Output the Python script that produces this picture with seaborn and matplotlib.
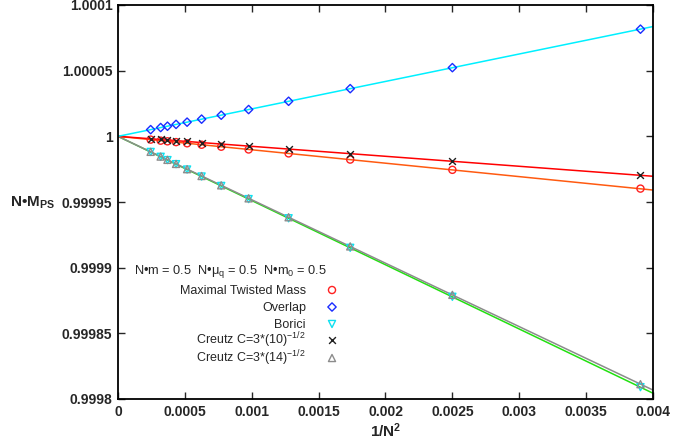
import numpy as np
import pandas as pd
import matplotlib
matplotlib.use("Agg")
import matplotlib.pyplot as plt
import seaborn as sns

# lattice sizes, plotted as 1/N^2
n_sizes = [16, 20, 24, 28, 32, 36, 40, 44, 48, 52, 56, 64]

# N*M_PS, one value per lattice size
mtm = [0.9999602, 0.9999745, 0.9999823, 0.9999870, 0.9999900, 0.9999921,
       0.9999936, 0.9999947, 0.9999956, 0.9999962, 0.9999967, 0.9999975]
overlap = [1.0000816, 1.0000523, 1.0000363, 1.0000267, 1.0000204, 1.0000161,
           1.0000131, 1.0000108, 1.0000091, 1.0000077, 1.0000067, 1.0000051]
borici = [0.9998090, 0.9998778, 0.9999151, 0.9999376, 0.9999522, 0.9999622,
          0.9999694, 0.9999747, 0.9999788, 0.9999819, 0.9999844, 0.9999881]
creutz10 = [0.9999703, 0.9999810, 0.9999868, 0.9999903, 0.9999926, 0.9999941,
            0.9999953, 0.9999961, 0.9999967, 0.9999972, 0.9999976, 0.9999981]
creutz14 = [0.9998113, 0.9998793, 0.9999162, 0.9999384, 0.9999528, 0.9999627,
            0.9999698, 0.9999750, 0.9999790, 0.9999821, 0.9999846, 0.9999882]

# straight fit lines: value at 1/N^2 = 0 and at 1/N^2 = 0.004
fit_x = [0.0, 0.004]
fit_mtm = [1.0, 0.9999591]
fit_overlap = [1.0, 1.0000836]
fit_borici = [1.0, 0.9998044]
fit_creutz10 = [1.0, 0.9999696]
fit_creutz14 = [1.0, 0.9998068]

x_ticks = [0, 0.0005, 0.001, 0.0015, 0.002, 0.0025, 0.003, 0.0035, 0.004]
y_ticks = [0.9998, 0.99985, 0.9999, 0.99995, 1.0, 1.00005, 1.0001]

legend_title = r"N•m = 0.5  N•μ$_\mathrm{q}$ = 0.5  N•m$_\mathrm{0}$ = 0.5"

sns.set_theme(style="ticks")
plt.rcParams["font.family"] = ["Liberation Sans", "DejaVu Sans"]
plt.rcParams["mathtext.fontset"] = "custom"
plt.rcParams["mathtext.rm"] = "Liberation Sans"
plt.rcParams["mathtext.it"] = "Liberation Sans"
plt.rcParams["mathtext.bf"] = "Liberation Sans:bold"

inv_n2 = [1.0 / n ** 2 for n in n_sizes]
df = pd.DataFrame({"x": inv_n2, "mtm": mtm, "overlap": overlap, "borici": borici,
                   "creutz10": creutz10, "creutz14": creutz14})
fits = pd.DataFrame({"x": fit_x, "mtm": fit_mtm, "overlap": fit_overlap, "borici": fit_borici,
                     "creutz10": fit_creutz10, "creutz14": fit_creutz14})

fig = plt.figure(figsize=(6.73, 4.45), dpi=100)
ax = fig.add_axes([118 / 673, 1 - 399 / 445, 535 / 673, 394 / 445])

# fit lines
line_colors = {"overlap": "#00f0ff", "mtm": "#ff5a10", "creutz10": "#ff0000",
               "borici": "#22e010", "creutz14": "#8c8c8c"}
for key in ["borici", "creutz14", "mtm", "creutz10", "overlap"]:
    sns.lineplot(data=fits, x="x", y=key, ax=ax, color=line_colors[key], lw=1.1,
                 estimator=None, legend=False)

# data points
series = [
    ("mtm", "Maximal Twisted Mass", "o", "#ff2020", True),
    ("overlap", "Overlap", "D", "#1a2cff", True),
    ("borici", "Borici", "v", "#10e0f0", True),
    ("creutz10", "Creutz C=3*(10)$^{-1/2}$", "x", "#202020", False),
    ("creutz14", "Creutz C=3*(14)$^{-1/2}$", "^", "#8c8c8c", True),
]


def marker_kw(marker, color, open_marker):
    if open_marker:
        size = 18 if marker == "D" else 26
        return dict(marker=marker, s=size, facecolors="none", edgecolor=color, linewidth=1.0)
    return dict(marker=marker, s=24, color=color, linewidth=1.0)


for key, label, marker, color, open_marker in series:
    sns.scatterplot(data=df, x="x", y=key, ax=ax, zorder=3,
                    **marker_kw(marker, color, open_marker))

# gnuplot style key: right aligned text, marker to the right
to_ax = lambda px, py: ((px - 118) / 535, (399 - py) / 394)
ax.text(*to_ax(327, 271), legend_title, transform=ax.transAxes, ha="right",
        va="center", fontsize=9.2)
row_y = [290, 307, 324, 340, 358]
for (key, label, marker, color, open_marker), py in zip(series, row_y):
    ax.text(*to_ax(306, py + 4), label, transform=ax.transAxes, ha="right",
            va="baseline", fontsize=9.0)
    mx, my = to_ax(332, py)
    ax.scatter([mx], [my], transform=ax.transAxes, clip_on=False, zorder=4,
               **marker_kw(marker, color, open_marker))

ax.set_xlim(0, 0.004)
ax.set_ylim(0.9998, 1.0001)
ax.set_xticks(x_ticks)
ax.set_yticks(y_ticks)
ax.set_xticklabels([f"{v:g}" for v in x_ticks])
ax.set_yticklabels([f"{v:.6g}" for v in y_ticks])
ax.tick_params(direction="in", top=True, right=True, length=5, width=1.0,
               labelsize=10, pad=4)
for lab in ax.get_xticklabels() + ax.get_yticklabels():
    lab.set_fontweight("bold")
for sp in ax.spines.values():
    sp.set_linewidth(1.3)
    sp.set_color("black")

ax.set_xlabel(r"1/N$^{\mathbf{2}}$", fontsize=11, fontweight="bold", labelpad=2)
ax.set_ylabel("")
fig.text(10 / 673, 1 - 203 / 445, r"N•M$_{\mathbf{PS}}$", fontsize=11,
         fontweight="bold", ha="left", va="center")

fig.savefig("out.png", dpi=100)
